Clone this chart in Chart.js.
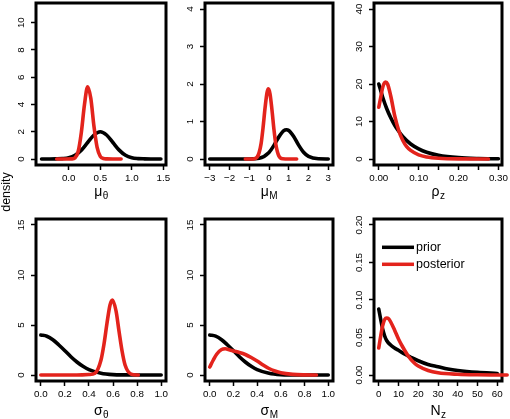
<!DOCTYPE html>
<html><head><meta charset="utf-8">
<script src="https://cdn.jsdelivr.net/npm/chart.js@4.4.0/dist/chart.umd.min.js"></script>
<style>
html,body{margin:0;padding:0;background:#fff;width:510px;height:419px;overflow:hidden;position:relative;}
#ylab{position:absolute;left:-24px;top:185px;width:60px;height:14px;line-height:14px;text-align:center;
  transform:rotate(-90deg);font-family:"Liberation Sans",Arial,Helvetica,sans-serif;font-size:12.5px;color:#000;z-index:5;}
</style></head><body>
<div id="ylab">density</div>
<script>
// ---------- data ----------
// panel 1: mu_theta
const muThetaPriorX = [-0.43,-0.3,-0.2,-0.1,0,0.1,0.2,0.3,0.4,0.5,0.6,0.7,0.8,0.9,1.0,1.1,1.2,1.3,1.46];
const muThetaPriorY = [0,0,0.01,0.03,0.09,0.27,0.65,1.21,1.76,2.0,1.76,1.21,0.65,0.27,0.09,0.03,0.01,0,0];
const muThetaPostX  = [-0.19,-0.05,0.05,0.1,0.15,0.2,0.25,0.3,0.35,0.4,0.45,0.5,0.55,0.6,0.7,0.83];
const muThetaPostY  = [0,0,0.01,0.08,0.55,1.95,4.0,5.3,4.45,2.4,0.85,0.2,0.04,0.01,0,0];
// panel 2: mu_M
const muMPriorX = [-3,-2,-1.5,-1,-0.5,0,0.25,0.5,0.75,0.88,1.0,1.25,1.5,1.75,2.0,2.5,3];
const muMPriorY = [0,0,0,0.001,0.02,0.176,0.364,0.59,0.755,0.78,0.76,0.6,0.37,0.18,0.07,0.005,0];
const muMPostX  = [-1.2,-0.8,-0.6,-0.5,-0.4,-0.3,-0.2,-0.1,-0.03,0.05,0.15,0.25,0.35,0.5,0.7,1.0,1.4];
const muMPostY  = [0,0.002,0.05,0.17,0.41,0.84,1.36,1.77,1.87,1.74,1.31,0.79,0.38,0.08,0.005,0,0];
// panel 3: rho_z
const rhoPriorX = [0,0.01,0.02,0.03,0.04,0.05,0.06,0.08,0.1,0.12,0.15,0.2,0.25,0.3];
const rhoPriorY = [20,16.4,13.4,11,9,7.4,6,4,2.7,1.8,1.0,0.37,0.13,0.05];
const rhoPostX  = [0,0.005,0.01,0.017,0.022,0.03,0.04,0.05,0.06,0.07,0.08,0.1,0.12,0.15,0.2,0.275];
const rhoPostY  = [13.8,16.5,19.2,20.5,20,16.8,11.5,7.6,5.0,3.3,2.3,1.1,0.55,0.2,0.03,0];
// panel 4: sigma_theta
const sigThetaPriorX = [0,0.05,0.1,0.15,0.2,0.25,0.3,0.35,0.4,0.5,0.6,0.7,0.8,1.0];
const sigThetaPriorY = [4,3.88,3.53,3.0,2.43,1.83,1.3,0.87,0.54,0.18,0.04,0.01,0,0];
const sigThetaPostX  = [0,0.3,0.4,0.45,0.5,0.525,0.55,0.575,0.595,0.625,0.65,0.675,0.7,0.75,0.81];
const sigThetaPostY  = [0,0,0.05,0.18,1.5,3.1,5.2,7.0,7.5,6.4,4.35,2.4,1.0,0.09,0];
// panel 5: sigma_M
const sigMPriorX = [0,0.05,0.1,0.15,0.2,0.25,0.3,0.35,0.4,0.5,0.6,0.7,0.8,1.0];
const sigMPriorY = [4,3.88,3.53,3.0,2.43,1.83,1.3,0.87,0.54,0.18,0.04,0.01,0,0];
const sigMPostX  = [0,0.03,0.06,0.1,0.13,0.17,0.2,0.25,0.3,0.35,0.4,0.45,0.5,0.55,0.6,0.7,0.8,0.9];
const sigMPostY  = [0.8,1.5,2.1,2.55,2.62,2.5,2.4,2.25,2.05,1.75,1.4,1.0,0.65,0.4,0.22,0.06,0.01,0];
// panel 6: N_z
const nzPriorX = [0,1,2,3,4,6,8,10,13,16,20,25,30,35,40,50,60];
const nzPriorY = [0.088,0.074,0.061,0.052,0.046,0.04,0.036,0.033,0.028,0.024,0.019,0.014,0.011,0.008,0.006,0.0035,0.002];
const nzPostX  = [0,1,2,3,4,5,6,8,10,12,15,18,20,25,30,40,50,65];
const nzPostY  = [0.036,0.052,0.066,0.074,0.076,0.075,0.071,0.06,0.048,0.038,0.025,0.016,0.012,0.006,0.003,0.001,0.0003,0];

// ---------- ticks ----------
const p1XTicks = [0,0.5,1,1.5];            const p1XLabels = ['0.0','0.5','1.0','1.5'];
const p1YTicks = [0,2,4,6,8,10];           const p1YLabels = ['0','2','4','6','8','10'];
const p2XTicks = [-3,-2,-1,0,1,2,3];       const p2XLabels = ['\u22123','\u22122','\u22121','0','1','2','3'];
const p2YTicks = [0,1,2,3,4];              const p2YLabels = ['0','1','2','3','4'];
const p3XTicks = [0,0.05,0.1,0.15,0.2,0.25,0.3]; const p3XLabels = ['0.00','','0.10','','0.20','','0.30'];
const p3YTicks = [0,10,20,30,40];          const p3YLabels = ['0','10','20','30','40'];
const p4XTicks = [0,0.2,0.4,0.6,0.8,1];    const p4XLabels = ['0.0','0.2','0.4','0.6','0.8','1.0'];
const p4YTicks = [0,5,10,15];              const p4YLabels = ['0','5','10','15'];
const p5XTicks = [0,0.2,0.4,0.6,0.8,1];    const p5XLabels = ['0.0','0.2','0.4','0.6','0.8','1.0'];
const p5YTicks = [0,5,10,15];              const p5YLabels = ['0','5','10','15'];
const p6XTicks = [0,10,20,30,40,50,60];    const p6XLabels = ['0','10','20','30','40','50','60'];
const p6YTicks = [0,0.05,0.1,0.15,0.2];    const p6YLabels = ['0.00','0.05','0.10','0.15','0.20'];

// axis titles: [main symbol, subscript]
const axisTitles = [['\u03bc','\u03b8'],['\u03bc','M'],['\u03c1','z'],['\u03c3','\u03b8'],['\u03c3','M'],['N','z']];
const seriesNames = ['prior','posterior'];

// ---------- styling / layout ----------
const FONT = '"Liberation Sans", Arial, Helvetica, sans-serif';
const RED = '#e3231c';
const TL = 5;          // tick length
const YLAB_DIST = 15;  // distance of y tick label centre from box
const TICK_FS = 9.8;
const TITLE_FS = 14;
const SUB_FS = 10;

const panels = [
  {left:0,   top:0,   w:170, h:205, areaL:36, padT:3,  padR:4, axisH:40, xr:[-0.518,1.541], yr:[-0.44,11.44],
   xt:p1XTicks, xl:p1XLabels, yt:p1YTicks, yl:p1YLabels, prior:[muThetaPriorX,muThetaPriorY], post:[muThetaPostX,muThetaPostY], title:axisTitles[0], tb:195.5},
  {left:170, top:0,   w:167, h:205, areaL:35, padT:3,  padR:4, axisH:40, xr:[-3.24,3.24], yr:[-0.16,4.16],
   xt:p2XTicks, xl:p2XLabels, yt:p2YTicks, yl:p2YLabels, prior:[muMPriorX,muMPriorY], post:[muMPostX,muMPostY], title:axisTitles[1], tb:195.5},
  {left:340, top:0,   w:170, h:205, areaL:34, padT:3,  padR:8, axisH:40, xr:[-0.012,0.309], yr:[-1.6,41.6],
   xt:p3XTicks, xl:p3XLabels, yt:p3YTicks, yl:p3YLabels, prior:[rhoPriorX,rhoPriorY], post:[rhoPostX,rhoPostY], title:axisTitles[2], tb:195.5},
  {left:0,   top:205, w:170, h:214, areaL:36, padT:14, padR:4, axisH:38, xr:[-0.04,1.04], yr:[-0.6,15.6],
   xt:p4XTicks, xl:p4XLabels, yt:p4YTicks, yl:p4YLabels, prior:[sigThetaPriorX,sigThetaPriorY], post:[sigThetaPostX,sigThetaPostY], title:axisTitles[3], tb:209.5},
  {left:170, top:205, w:167, h:214, areaL:35, padT:14, padR:4, axisH:38, xr:[-0.04,1.04], yr:[-0.6,15.6],
   xt:p5XTicks, xl:p5XLabels, yt:p5YTicks, yl:p5YLabels, prior:[sigMPriorX,sigMPriorY], post:[sigMPostX,sigMPostY], title:axisTitles[4], tb:209.5},
  {left:340, top:205, w:170, h:214, areaL:34, padT:14, padR:8, axisH:38, xr:[-2.4,62.4], yr:[-0.008,0.208],
   xt:p6XTicks, xl:p6XLabels, yt:p6YTicks, yl:p6YLabels, prior:[nzPriorX,nzPriorY], post:[nzPostX,nzPostY], title:axisTitles[5], tb:209.5,
   legend:true, noClipPost:true}
];

const mctx = document.createElement('canvas').getContext('2d');
mctx.font = TICK_FS + 'px ' + FONT;
const textW = s => mctx.measureText(s).width;
const pts = (xs, ys) => xs.map((x, i) => ({x, y: ys[i]}));

const boxPlugin = {
  id: 'rbox',
  beforeDatasetsDraw(chart) {
    const {ctx, chartArea: a} = chart;
    ctx.save();
    ctx.lineWidth = 3;
    ctx.strokeStyle = '#000';
    ctx.strokeRect(a.left, a.top, a.right - a.left, a.bottom - a.top);
    ctx.restore();
  }
};

function makeTitlePlugin(p) {
  return {
    id: 'rtitle',
    afterDraw(chart) {
      const {ctx, chartArea: a} = chart;
      const [main, sub] = p.title;
      ctx.save();
      ctx.fillStyle = '#000';
      ctx.textBaseline = 'alphabetic';
      ctx.textAlign = 'left';
      ctx.font = TITLE_FS + 'px ' + FONT;
      const w1 = ctx.measureText(main).width;
      ctx.font = SUB_FS + 'px ' + FONT;
      const w2 = ctx.measureText(sub).width;
      const x0 = (a.left + a.right) / 2 - (w1 + w2) / 2;
      ctx.font = TITLE_FS + 'px ' + FONT;
      ctx.fillText(main, x0, p.tb);
      ctx.font = SUB_FS + 'px ' + FONT;
      ctx.fillText(sub, x0 + w1 + 0.5, p.tb + 3.5);
      if (p.legend) {
        const lx = 42, ly = [42.3, 59.3];
        const cols = ['#000', RED];
        ctx.lineCap = 'butt';
        ctx.lineWidth = 3.5;
        for (let i = 0; i < 2; i++) {
          ctx.strokeStyle = cols[i];
          ctx.beginPath(); ctx.moveTo(lx, ly[i]); ctx.lineTo(lx + 32, ly[i]); ctx.stroke();
          ctx.font = '12.5px ' + FONT;
          ctx.textBaseline = 'middle';
          ctx.fillText(seriesNames[i], lx + 34, ly[i] + 0.5);
        }
      }
      ctx.restore();
    }
  };
}

panels.forEach(p => {
  const canvas = document.createElement('canvas');
  canvas.width = p.w; canvas.height = p.h;
  canvas.style.cssText = `position:absolute;left:${p.left}px;top:${p.top}px;width:${p.w}px;height:${p.h}px;`;
  document.body.appendChild(canvas);
  const widest = Math.max(...p.yl.map(textW));
  const yPad = YLAB_DIST - TL - widest / 2;
  const lineCommon = {pointRadius: 0, borderWidth: 3.6, fill: false, cubicInterpolationMode: 'monotone',
                      borderCapStyle: 'round', borderJoinStyle: 'round'};
  const postDs = Object.assign({label: seriesNames[1], data: pts(p.post[0], p.post[1]), borderColor: RED, order: 0}, lineCommon);
  if (p.noClipPost) postDs.clip = false;
  const priorDs = Object.assign({label: seriesNames[0], data: pts(p.prior[0], p.prior[1]), borderColor: '#000', order: 1}, lineCommon);
  const gridOpt = {display: true, drawOnChartArea: false, drawTicks: true, tickLength: TL, tickColor: '#000', tickWidth: 1.5};
  new Chart(canvas, {
    type: 'line',
    data: {datasets: [postDs, priorDs]},
    options: {
      responsive: false, animation: false, devicePixelRatio: 1,
      layout: {padding: {left: 0, top: p.padT, right: p.padR, bottom: 0}, autoPadding: false},
      plugins: {legend: {display: false}, tooltip: {enabled: false}},
      scales: {
        x: {
          type: 'linear', min: p.xr[0], max: p.xr[1],
          afterBuildTicks: s => { s.ticks = p.xt.map(v => ({value: v})); },
          ticks: {callback: (v, i) => p.xl[i], font: {size: TICK_FS, family: FONT}, color: '#000',
                  maxRotation: 0, minRotation: 0, autoSkip: false, padding: 2},
          grid: gridOpt, border: {display: false},
          afterFit: s => { s.height = p.axisH; s.paddingLeft = 0; s.paddingRight = 0; s.paddingTop = 0; s.paddingBottom = 0; }
        },
        y: {
          type: 'linear', min: p.yr[0], max: p.yr[1],
          afterBuildTicks: s => { s.ticks = p.yt.map(v => ({value: v})); },
          ticks: {callback: (v, i) => p.yl[i], font: {size: TICK_FS, family: FONT}, color: '#000',
                  minRotation: 90, maxRotation: 90, crossAlign: 'center', autoSkip: false, padding: yPad},
          grid: gridOpt, border: {display: false},
          afterFit: s => { s.width = p.areaL; s.paddingLeft = 0; s.paddingRight = 0; s.paddingTop = 0; s.paddingBottom = 0; }
        }
      }
    },
    plugins: [boxPlugin, makeTitlePlugin(p)]
  });
});
</script>
</body></html>
